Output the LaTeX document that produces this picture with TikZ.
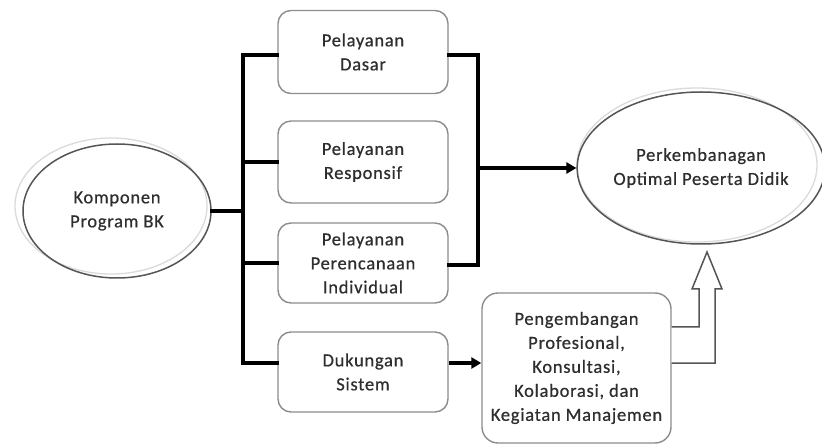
\documentclass[tikz,border=0pt]{standalone}
\usepackage{fontspec}
\setmainfont[LetterSpace=4,FakeBold=0.6]{Carlito}
\usetikzlibrary{shapes.geometric,arrows.meta,calc}
\definecolor{txt}{HTML}{2E2E2E}
\definecolor{boxline}{HTML}{8C8C8C}
\definecolor{ellline}{HTML}{555555}
\definecolor{ghost}{HTML}{DADADA}
\tikzset{
  lbl/.style={font=\fontsize{18.5}{24}\selectfont, text=txt, align=center},
  rbox/.style={lbl, draw=boxline, line width=1.4pt, rounded corners=13pt, fill=white, inner sep=0pt},
  oval/.style={lbl, ellipse, draw=ellline, line width=1.5pt, inner sep=0pt},
  conn/.style={line width=3.4pt, line cap=rect},
  arr/.style={line width=3.4pt, -{Triangle[length=10pt,width=11pt]}},
}
\begin{document}
\begin{tikzpicture}[x=1pt,y=-1pt]
\useasboundingbox (0,0) rectangle (822,446);
% ghost ellipses
\draw[ghost, line width=1.3pt] (111,206) ellipse [x radius=96, y radius=68];
\draw[ghost, line width=1.3pt] (697,165) ellipse [x radius=120, y radius=77];
% ellipses
\node[oval, minimum width=188pt, minimum height=134pt] (komp) at (117,211) {Komponen\\Program BK};
\node[oval, minimum width=236pt, minimum height=152pt] (perk) at (701,168) {Perkembanagan\\Optimal Peserta Didik};
% boxes
\node[rbox, minimum width=170pt, minimum height=83pt] (dasar) at (363,52) {Pelayanan\\Dasar};
\node[rbox, minimum width=170pt, minimum height=82pt] (resp) at (363,162) {Pelayanan\\Responsif};
\node[rbox, minimum width=170pt, minimum height=80pt] (indiv) at (363,263) {Pelayanan\\Perencanaan\\Individual};
\node[rbox, minimum width=170pt, minimum height=80pt] (duk) at (363,372) {Dukungan\\Sistem};
\node[rbox, rounded corners=16pt, minimum width=189pt, minimum height=150pt] (peng) at (576.5,368) {Pengembangan\\Profesional,\\Konsultasi,\\Kolaborasi, dan\\Kegiatan Manajemen};
% left bus
\coordinate (lb) at (243,211);
\draw[conn] (komp.east) -- (lb);
\draw[conn] (dasar.west |- 0,55) -| (243,363) -- ([yshift=9pt]duk.west);
\draw[conn] (243,162) -- (resp.west);
\draw[conn] (243,263) -- (indiv.west);
% right bus
\coordinate (rb) at (478,168);
\draw[conn] (dasar.east |- 0,55) -| (478,265) -- (indiv.east |- 0,265);
\draw[arr] (rb) -- (perk.west);
% dukungan -> pengembangan
\draw[arr] ([yshift=9pt]duk.east) -- ([yshift=5pt]peng.west);
% hollow bent arrow
\draw[ellline, line width=1.5pt, fill=white, line join=miter]
  (peng.east |- 0,327) -- (699,327) -- (699,289) -- (692,289) -- (707,252)
  -- (722,289) -- (715,289) -- (715,363) -- (peng.east |- 0,363);
\end{tikzpicture}
\end{document}
